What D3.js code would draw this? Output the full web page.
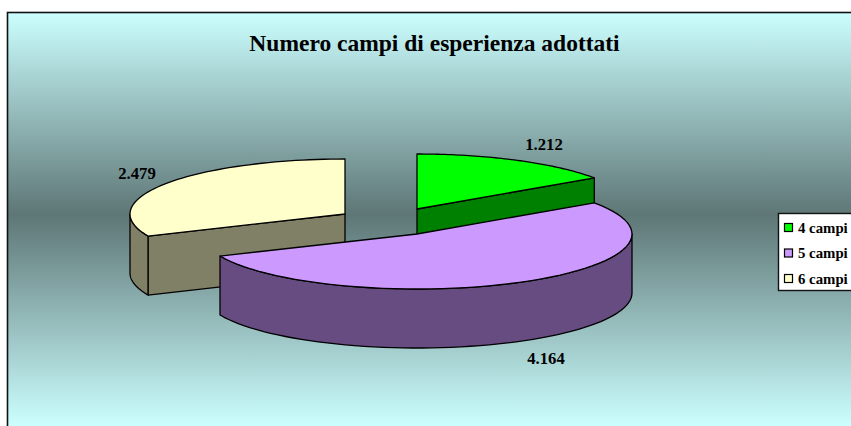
<!DOCTYPE html>
<html><head><meta charset="utf-8">
<script src="https://cdn.jsdelivr.net/npm/d3@7"></script>
<style>html,body{margin:0;padding:0;background:#fff}svg{display:block}text{font-family:"Liberation Serif","Times New Roman",serif;font-weight:bold;fill:#000}</style>
</head><body><div id="c"></div>
<script>
const categories = ["4 campi", "5 campi", "6 campi"];
const values = [1212, 4164, 2479];
const valueLabels = ["1.212", "4.164", "2.479"];
const topColors = ["#00FF00", "#CC99FF", "#FFFFCC"];
const sideColors = ["#008000", "#664C80", "#808066"];
const title = "Numero campi di esperienza adottati";

const W = 851, H = 426;
const svg = d3.select("#c").append("svg").attr("width", W).attr("height", H);
const defs = svg.append("defs");
const g = defs.append("linearGradient").attr("id", "bg").attr("gradientUnits", "userSpaceOnUse")
  .attr("x1", 0).attr("x2", 0).attr("y1", 12).attr("y2", 426);
[[0, "#CCFFFF"], [0.49, "#5E7676"], [1, "#CCFFFF"]].forEach(s => g.append("stop").attr("offset", s[0]).attr("stop-color", s[1]));

svg.append("rect").attr("x", 7.5).attr("y", 12.5).attr("width", W).attr("height", H)
  .attr("fill", "url(#bg)").attr("stroke", "#111").attr("stroke-width", 1.6);

svg.append("text").attr("x", 434.5).attr("y", 51).attr("text-anchor", "middle").attr("font-size", 23.5).text(title);

// pseudo-3D pie
const rx = 215, ry = 55, depth = 59;
const centres = [{x: 417, y: 209}, {x: 417, y: 234}, {x: 345, y: 214}];
const labelPos = [{x: 544, y: 150}, {x: 546, y: 364}, {x: 137, y: 179}];
const arcs = d3.pie().sort(null).value(d => d)(values);
const sx = d3.scaleLinear().domain([-1, 1]).range([-rx, rx]);
const sy = d3.scaleLinear().domain([-1, 1]).range([ry, -ry]);
const pt = (c, a, dz = 0) => [c.x + sx(Math.sin(a)), c.y + sy(Math.cos(a)) + dz];
const line = d3.line();
const samples = (a0, a1) => d3.range(0, 61).map(i => a0 + (a1 - a0) * i / 60);

function face(p, fill) {
  svg.append("path").attr("d", line(p) + "Z").attr("fill", fill)
    .attr("stroke", "#000").attr("stroke-width", 1.3).attr("stroke-linejoin", "round");
}
function rim(c, a0, a1, fill) {
  const top = samples(a0, a1).map(a => pt(c, a));
  const bot = samples(a0, a1).map(a => pt(c, a, depth)).reverse();
  face(top.concat(bot), fill);
}
function cut(c, a, fill) {
  const e = pt(c, a), o = [c.x, c.y];
  face([o, e, [e[0], e[1] + depth], [o[0], o[1] + depth]], fill);
}
function topFace(c, a0, a1, fill) {
  face([[c.x, c.y]].concat(samples(a0, a1).map(a => pt(c, a))), fill);
}
function slice(i) {
  const c = centres[i], d = arcs[i], a0 = d.startAngle, a1 = d.endAngle;
  const fa0 = Math.max(a0, Math.PI / 2), fa1 = Math.min(a1, 3 * Math.PI / 2);
  if (a0 > Math.PI) cut(c, a0, sideColors[i]);
  if (a1 <= Math.PI) cut(c, a1, sideColors[i]);
  if (fa1 > fa0) rim(c, fa0, fa1, sideColors[i]);
  topFace(c, a0, a1, topColors[i]);
}
[2, 0, 1].forEach(slice);

valueLabels.forEach((t, i) => svg.append("text").attr("x", labelPos[i].x).attr("y", labelPos[i].y)
  .attr("text-anchor", "middle").attr("font-size", 16.7).text(t));

// legend
const lx = 778, ly = 213, lh = 77;
svg.append("rect").attr("x", lx + 0.5).attr("y", ly + 0.5).attr("width", 90).attr("height", lh)
  .attr("fill", "#fff").attr("stroke", "#111").attr("stroke-width", 1.4);
const ys = d3.scalePoint().domain(categories).range([227.5, 278.5]);
categories.forEach((c, i) => {
  svg.append("rect").attr("x", 784.5).attr("y", ys(c) - 4).attr("width", 8).attr("height", 8)
    .attr("fill", topColors[i]).attr("stroke", "#000").attr("stroke-width", 1.2);
  svg.append("text").attr("x", 798).attr("y", ys(c) + 5).attr("font-size", 14.8).text(c);
});
</script></body></html>
